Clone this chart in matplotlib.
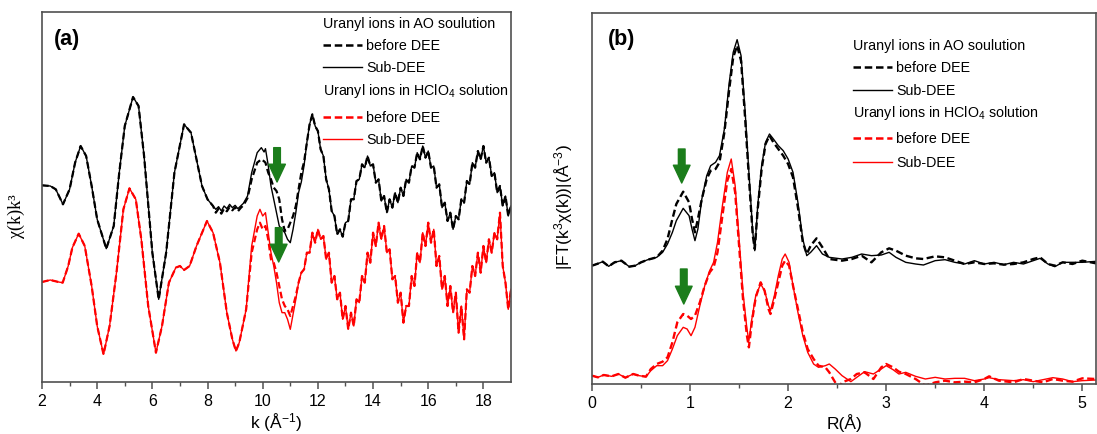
import numpy as np
import matplotlib.pyplot as plt
from matplotlib.lines import Line2D

plt.rcParams['font.family'] = ['Liberation Sans', 'DejaVu Sans']
plt.rcParams['mathtext.fontset'] = 'custom'
plt.rcParams['mathtext.rm'] = 'Liberation Sans'
plt.rcParams['mathtext.it'] = 'Liberation Sans:italic'

# ---- panel (a): chi(k)k^3, arbitrary units ----
k_start = [2.0, 2.3, 2.5, 2.76, 3.0, 3.2, 3.4, 3.6, 3.8, 4.0, 4.33, 4.6, 4.8, 5.0, 5.3, 5.5,
           5.7, 6.0, 6.23, 6.5, 6.8, 7.15, 7.4, 7.6, 7.8, 8.0, 8.2]
ao_start = [590, 588, 578, 533, 578, 658, 708, 678, 588, 488, 400, 468, 628, 768, 855, 828,
            678, 388, 248, 388, 628, 773, 748, 668, 588, 548, 528]

k_flat = [8.3, 8.4, 8.5, 8.6, 8.7, 8.8, 8.9, 9.0, 9.1, 9.2, 9.3, 9.45]
ao_sub_flat = [518, 526, 513, 528, 520, 533, 523, 530, 520, 528, 536, 558]
ao_bef_flat = [508, 520, 505, 520, 512, 525, 515, 524, 512, 522, 530, 552]

k_mid = [9.6, 9.8, 9.95, 10.05, 10.1, 10.2, 10.3, 10.4, 10.5, 10.6, 10.7, 10.8, 10.9, 11.0,
         11.1, 11.2, 11.3, 11.4, 11.5]
ao_sub_mid = [628, 688, 703, 690, 700, 650, 588, 548, 508, 468, 458, 448, 428, 418,
              458, 508, 568, 600, 650]
ao_bef_mid = [608, 658, 668, 662, 658, 628, 608, 583, 573, 548, 488, 453, 458, 478,
              498, 528, 578, 628, 660]

k_tail = [round(11.6 + 0.1 * i, 1) for i in range(75)]
ao_tail = [718, 773, 803, 768, 753, 698, 678, 608, 578, 513, 498, 443, 458, 436, 478, 483,
           548, 548, 603, 608, 653, 643, 678, 648, 653, 598, 608, 543, 558, 508, 548, 523,
           568, 538, 583, 558, 608, 598, 648, 643, 688, 668, 708, 673, 693, 643, 648, 583,
           593, 523, 538, 483, 508, 458, 498, 488, 548, 538, 603, 593, 658, 643, 693, 668,
           708, 658, 673, 618, 628, 568, 588, 528, 558, 498, 528]

k_red_start = [2.0, 2.3, 2.6, 2.75, 2.95, 3.1, 3.33, 3.55, 3.8, 4.0, 4.23, 4.45, 4.7, 4.95,
               5.17, 5.4, 5.6, 5.85, 6.13, 6.35, 6.6, 6.85, 7.0, 7.15, 7.35, 7.6, 7.98, 8.2,
               8.45, 8.7, 8.9, 9.03, 9.15, 9.4]
hc_start = [300, 306, 300, 298, 348, 403, 445, 408, 288, 168, 83, 168, 328, 518,
            581, 548, 428, 228, 88, 168, 298, 343, 348, 336, 348, 408, 483, 448,
            358, 208, 128, 93, 118, 218]

k_red_mid = [9.6, 9.8, 9.9, 10.0, 10.1, 10.2, 10.3, 10.4, 10.5, 10.6, 10.7, 10.8, 10.9, 11.0,
             11.1, 11.2, 11.3, 11.4]
hc_sub_mid = [408, 498, 518, 498, 508, 448, 388, 348, 298, 238, 208, 208, 188, 158,
              203, 248, 298, 328]
hc_bef_mid = [388, 458, 478, 458, 468, 428, 368, 358, 328, 288, 248, 228, 218, 198,
              228, 258, 298, 328]

k_red_tail = [round(11.5 + 0.1 * i, 1) for i in range(76)]
hc_tail = [338, 388, 388, 448, 418, 458, 428, 438, 368, 388, 298, 318, 248, 268, 188, 228,
           158, 208, 168, 248, 238, 318, 298, 388, 358, 448, 408, 478, 428, 468, 388, 398,
           308, 318, 238, 268, 178, 228, 228, 318, 288, 388, 358, 448, 408, 478, 418, 458,
           348, 378, 278, 318, 228, 288, 208, 268, 148, 228, 128, 278, 268, 348, 318, 388,
           328, 408, 358, 428, 388, 448, 428, 508, 348, 298, 218, 278]

# ---- panel (b): |FT|, arbitrary units ----
r_ao = [0.00, 0.05, 0.11, 0.17, 0.23, 0.30, 0.38, 0.44, 0.50, 0.57, 0.66, 0.72, 0.77, 0.82,
        0.86, 0.93, 0.99, 1.02, 1.05, 1.08, 1.12, 1.17, 1.21, 1.26, 1.30, 1.35, 1.40, 1.44,
        1.48, 1.52, 1.56, 1.60, 1.64, 1.66, 1.69, 1.73, 1.77, 1.81, 1.85, 1.90, 1.95, 2.00,
        2.05, 2.10, 2.15, 2.19, 2.23, 2.29, 2.35, 2.42, 2.55, 2.65, 2.75, 2.85, 2.95, 3.03,
        3.10, 3.20, 3.30, 3.38, 3.50, 3.60, 3.70, 3.80, 3.90, 4.00, 4.10, 4.20, 4.30, 4.40,
        4.50, 4.57, 4.65, 4.72, 4.80, 4.90, 5.00, 5.14]
ft_ao_sub = [355, 360, 367, 353, 365, 370, 352, 355, 365, 373, 380, 395, 420, 455,
             490, 527, 505, 465, 430, 465, 555, 625, 655, 665, 685, 765, 905, 995,
             1033, 985, 825, 635, 455, 400, 535, 655, 725, 750, 735, 715, 700, 675,
             635, 545, 435, 385, 395, 415, 390, 380, 375, 380, 390, 385, 387, 395,
             380, 365, 360, 357, 370, 373, 365, 360, 370, 360, 365, 358, 365, 360,
             370, 377, 360, 352, 365, 365, 365, 368]
ft_ao_bef = [355, 360, 367, 353, 365, 370, 352, 355, 365, 373, 380, 400, 435, 495,
             540, 577, 545, 495, 455, 495, 555, 615, 640, 645, 665, 755, 885, 980,
             1015, 970, 805, 620, 445, 405, 525, 645, 720, 745, 725, 705, 685, 660,
             620, 530, 425, 390, 415, 437, 410, 375, 370, 375, 385, 365, 395, 407,
             400, 385, 377, 375, 383, 380, 370, 360, 365, 360, 362, 358, 360, 365,
             375, 380, 360, 355, 365, 360, 370, 362]

r_hc_sub = [0.00, 0.06, 0.12, 0.20, 0.27, 0.34, 0.42, 0.48, 0.55, 0.60, 0.66, 0.72, 0.77,
            0.82, 0.87, 0.93, 0.97, 1.01, 1.05, 1.10, 1.15, 1.20, 1.24, 1.28, 1.33, 1.38,
            1.42, 1.46, 1.50, 1.54, 1.58, 1.60, 1.63, 1.67, 1.72, 1.76, 1.80, 1.82, 1.86,
            1.90, 1.94, 1.97, 2.01, 2.05, 2.10, 2.15, 2.20, 2.26, 2.31, 2.38, 2.42, 2.48,
            2.55, 2.64, 2.70, 2.78, 2.87, 2.95, 3.00, 3.07, 3.13, 3.20, 3.30, 3.40, 3.50,
            3.60, 3.70, 3.80, 3.90, 4.00, 4.05, 4.15, 4.30, 4.40, 4.50, 4.60, 4.70, 4.80,
            4.90, 5.00, 5.14]
ft_hc_sub = [25, 20, 27, 23, 30, 19, 30, 25, 22, 40, 55, 55, 70,
             105, 145, 170, 165, 145, 170, 235, 295, 340, 365, 425, 535, 635,
             675, 595, 435, 275, 165, 130, 195, 265, 300, 280, 235, 220, 265,
             325, 375, 390, 365, 295, 215, 145, 95, 60, 50, 55, 60, 45,
             25, 7, 20, 37, 30, 45, 55, 43, 30, 35, 23, 15, 20,
             15, 17, 17, 10, 15, 19, 13, 10, 13, 7, 13, 19, 15,
             7, 10, 12]

r_hc_bef = [0.00, 0.06, 0.12, 0.20, 0.27, 0.34, 0.42, 0.48, 0.55, 0.60, 0.66, 0.72, 0.77,
            0.82, 0.87, 0.93, 0.97, 1.01, 1.05, 1.10, 1.15, 1.20, 1.24, 1.28, 1.33, 1.38,
            1.42, 1.46, 1.50, 1.54, 1.58, 1.60, 1.63, 1.67, 1.72, 1.76, 1.80, 1.82, 1.86,
            1.90, 1.94, 1.97, 2.01, 2.05, 2.10, 2.15, 2.20, 2.26, 2.31, 2.38, 2.42, 2.48,
            2.52, 2.55, 2.64, 2.70, 2.78, 2.87, 2.95, 3.00, 3.07, 3.13, 3.20, 3.30, 3.40,
            3.50, 3.60, 3.70, 3.80, 3.90, 4.00, 4.05, 4.15, 4.30, 4.40, 4.50, 4.60, 4.70,
            4.80, 4.90, 5.00, 5.14]
ft_hc_bef = [25, 20, 27, 23, 30, 19, 30, 25, 22, 45, 60, 67, 80,
             125, 185, 210, 205, 195, 205, 245, 295, 335, 350, 395, 505, 610,
             645, 575, 415, 255, 145, 110, 185, 260, 305, 280, 225, 210, 255,
             305, 355, 370, 355, 295, 225, 155, 105, 75, 55, 50, 35, 5,
             -10, 5, 15, 30, 35, 15, 50, 60, 50, 37, 30, 15, -5,
             5, 10, 5, 7, 5, 15, 23, 10, 5, 15, 10, 5, 15,
             10, 7, 17, 15]

# green arrows (tail, tip) in data units
arrows_a = [((10.52, 703), (10.52, 600)), ((10.58, 463), (10.58, 360))]
arrows_b = [((0.915, 705), (0.915, 603)), ((0.936, 345), (0.936, 240))]

legend_titles = ['Uranyl ions in AO soulution', 'Uranyl ions in HClO$_4$ solution']
legend_entries = ['before DEE', 'Sub-DEE']

green = '#1b7d1b'
spine_col = '#505050'

W, H = 1097, 435
fig = plt.figure(figsize=(W / 100, H / 100), dpi=100)
ax1 = fig.add_axes([42 / W, 1 - 383 / H, 469 / W, 370 / H])
ax2 = fig.add_axes([592 / W, 1 - 385 / H, 504 / W, 371 / H])

ao_sub_k = k_start + k_flat + k_mid + k_tail
ao_sub = ao_start + ao_sub_flat + ao_sub_mid + ao_tail
ao_bef = ao_start + ao_bef_flat + ao_bef_mid + ao_tail
hc_k = k_red_start + k_red_mid + k_red_tail
hc_sub = hc_start + hc_sub_mid + hc_tail
hc_bef = hc_start + hc_bef_mid + hc_tail

ax1.plot(ao_sub_k, ao_sub, color='black', lw=1.0)
ax1.plot(ao_sub_k, ao_bef, color='black', lw=1.6, ls=(0, (3, 1.5)))
ax1.plot(hc_k, hc_sub, color='red', lw=1.0)
ax1.plot(hc_k, hc_bef, color='red', lw=1.6, ls=(0, (3, 1.5)))

ax2.plot(r_ao, ft_ao_sub, color='black', lw=1.0)
ax2.plot(r_ao, ft_ao_bef, color='black', lw=1.7, ls=(0, (3, 1.5)))
ax2.plot(r_hc_sub, ft_hc_sub, color='red', lw=1.0)
ax2.plot(r_hc_bef, ft_hc_bef, color='red', lw=1.7, ls=(0, (3, 1.5)))

for ax, arrows in ((ax1, arrows_a), (ax2, arrows_b)):
    for tail, tip in arrows:
        ax.annotate('', xy=tip, xytext=tail,
                    arrowprops=dict(arrowstyle='simple,head_length=0.8,head_width=0.75,tail_width=0.3',
                                    color=green, mutation_scale=16, shrinkA=0, shrinkB=0))

ax1.set_xlim(2, 19)
ax1.set_ylim(0, 1110)
ax1.set_xticks(np.arange(2, 19, 2))
ax1.set_xticks(np.arange(3, 19, 2), minor=True)
ax2.set_xlim(0, 5.14)
ax2.set_ylim(0, 1113)
ax2.set_xticks(np.arange(0, 5.1, 1))
ax2.set_xticks(np.arange(0.5, 5.1, 1), minor=True)

for ax in (ax1, ax2):
    ax.set_yticks([])
    for s in ax.spines.values():
        s.set_color(spine_col)
        s.set_linewidth(1.2)
    ax.tick_params(axis='x', which='major', direction='out', length=5, width=1.1,
                   color=spine_col, labelsize=11.5, pad=3)
    ax.tick_params(axis='x', which='minor', direction='out', length=3, width=1.0,
                   color=spine_col)

ax1.set_xlabel('k (Å$^{-1}$)', fontsize=12.5, labelpad=2)
ax2.set_xlabel('R(Å)', fontsize=12.5, labelpad=2)
ax1.set_ylabel('χ(k)k³', fontsize=13, family=['Liberation Serif', 'DejaVu Serif'])
ax2.set_ylabel('|FT(k$^{3}$χ(k))|(Å$^{-3}$)', fontsize=12.5)
ax1.yaxis.set_label_coords(-0.036, 0.45)
ax2.yaxis.set_label_coords(-0.034, 0.48)

fig.text(54 / W, 1 - 40 / H, '(a)', fontsize=15.5, fontweight='bold', va='center')
fig.text(608 / W, 1 - 39 / H, '(b)', fontsize=15.5, fontweight='bold', va='center')


def legend_block(x0, rows):
    # rows: heading, dashed black, solid black, heading, dashed red, solid red
    styles = [None, ('black', (0, (3, 1.5)), 1.8), ('black', '-', 1.0),
              None, ('red', (0, (3, 1.5)), 1.8), ('red', '-', 1.0)]
    labels = [legend_titles[0]] + legend_entries + [legend_titles[1]] + legend_entries
    for y, st, lab in zip(rows, styles, labels):
        yf = 1 - y / H
        if st is None:
            fig.text(x0 / W, yf, lab, fontsize=10.3, va='center')
        else:
            fig.add_artist(Line2D([x0 / W, (x0 + 39) / W], [yf, yf], color=st[0],
                                  ls=st[1], lw=st[2]))
            fig.text((x0 + 43) / W, yf, lab, fontsize=10.3, va='center')


legend_block(323, [24, 46, 68, 91, 118, 140])
legend_block(853, [46, 68, 91, 113, 139, 163])

fig.savefig('out.png', dpi=100)
